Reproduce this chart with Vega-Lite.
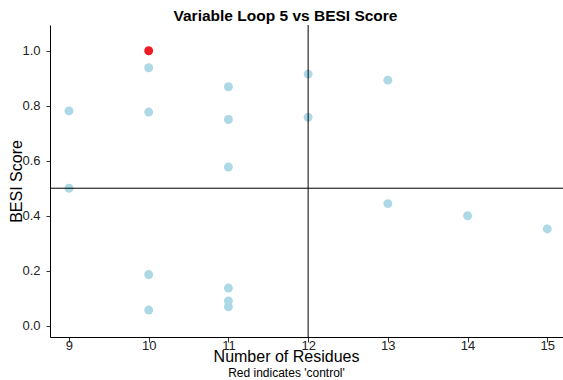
{
  "$schema": "https://vega.github.io/schema/vega-lite/v6.json",
  "width": 513,
  "height": 312,
  "autosize": {"type": "none"},
  "padding": {"left": 50, "top": 25, "right": 0, "bottom": 43},
  "background": "white",
  "config": {
    "view": {"stroke": null},
    "font": "Liberation Sans",
    "axis": {"grid": false, "domainColor": "#000000", "tickColor": "#333333", "labelColor": "#222222", "labelFont": "Liberation Sans", "titleFont": "Liberation Sans", "titleFontWeight": "normal", "titleColor": "#000000"}
  },
  "title": {
    "text": "Variable Loop 5 vs BESI Score",
    "font": "Liberation Sans",
    "fontSize": 15.5,
    "fontWeight": "bold",
    "color": "#000000",
    "anchor": "middle",
    "frame": "group",
    "dx": -21,
    "dy": 17,
    "baseline": "alphabetic",
    "offset": 5
  },
  "datasets": {
    "points": [
      {"residues": 9, "besi": 0.781, "group": "other"},
      {"residues": 9, "besi": 0.500, "group": "other"},
      {"residues": 10, "besi": 0.938, "group": "other"},
      {"residues": 10, "besi": 0.777, "group": "other"},
      {"residues": 10, "besi": 0.186, "group": "other"},
      {"residues": 10, "besi": 0.057, "group": "other"},
      {"residues": 11, "besi": 0.869, "group": "other"},
      {"residues": 11, "besi": 0.750, "group": "other"},
      {"residues": 11, "besi": 0.577, "group": "other"},
      {"residues": 11, "besi": 0.137, "group": "other"},
      {"residues": 11, "besi": 0.090, "group": "other"},
      {"residues": 11, "besi": 0.069, "group": "other"},
      {"residues": 12, "besi": 0.915, "group": "other"},
      {"residues": 12, "besi": 0.758, "group": "other"},
      {"residues": 13, "besi": 0.893, "group": "other"},
      {"residues": 13, "besi": 0.444, "group": "other"},
      {"residues": 14, "besi": 0.400, "group": "other"},
      {"residues": 15, "besi": 0.352, "group": "other"},
      {"residues": 10, "besi": 1.000, "group": "control"}
    ],
    "vref": [{"vx": 12}],
    "href": [{"hy": 0.5}]
  },
  "layer": [
    {
      "data": {"name": "points"},
      "mark": {"type": "circle", "size": 80, "opacity": 1},
      "encoding": {
        "x": {
          "field": "residues", "type": "quantitative",
          "scale": {"domain": [8.762, 15.197], "nice": false, "zero": false},
          "axis": {
            "orient": "bottom",
            "title": "Number of Residues",
            "titleFontSize": 16,
            "titleX": 236, "titleY": 24,
            "titleAlign": "center",
            "titleBaseline": "alphabetic",
            "values": [9, 10, 11, 12, 13, 14, 15],
            "format": "d",
            "labelFontSize": 13,
            "tickSize": 5,
            "labelPadding": -3,
            "labelBaseline": "top",
            "domainWidth": 1
          }
        },
        "y": {
          "field": "besi", "type": "quantitative",
          "scale": {"domain": [-0.041, 1.0935], "nice": false, "zero": false},
          "axis": {
            "orient": "left",
            "title": "BESI Score",
            "titleFontSize": 16,
            "titleX": -34, "titleY": 156,
            "titleAngle": -90,
            "titleAlign": "center",
            "titleBaseline": "middle",
            "values": [0, 0.2, 0.4, 0.6, 0.8, 1.0],
            "format": ".1f",
            "labelFontSize": 13,
            "tickSize": 4,
            "labelPadding": 6,
            "domainWidth": 1
          }
        },
        "color": {
          "field": "group", "type": "nominal",
          "scale": {"domain": ["other", "control"], "range": ["#ADD8E6", "#EE1C25"]},
          "legend": null
        }
      }
    },
    {
      "data": {"name": "vref"},
      "mark": {"type": "rule", "color": "#000000", "strokeWidth": 1},
      "encoding": {
        "x": {
          "field": "vx", "type": "quantitative",
          "axis": {
            "orient": "bottom",
            "title": "Red indicates 'control'",
            "titleFontSize": 12,
            "titleX": 236, "titleY": 39,
            "titleAlign": "center",
            "titleBaseline": "alphabetic",
            "labels": false, "ticks": false, "domain": false
          }
        }
      }
    },
    {
      "data": {"name": "href"},
      "mark": {"type": "rule", "color": "#000000", "strokeWidth": 1},
      "encoding": {
        "y": {"field": "hy", "type": "quantitative", "axis": null}
      }
    }
  ],
  "resolve": {"axis": {"x": "independent", "y": "independent"}}
}
